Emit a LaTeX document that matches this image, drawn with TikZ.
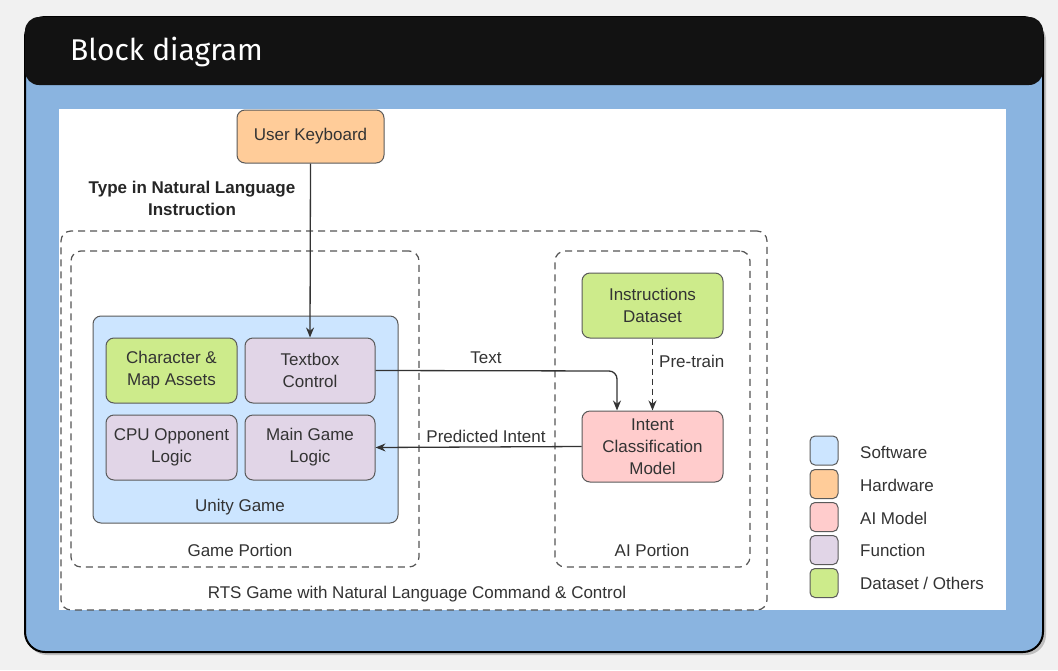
\documentclass[tikz,border=0pt]{standalone}
\usepackage{fontspec}
\setmainfont{Liberation Sans}
\newfontfamily\titlefont{Fira Sans}
\usetikzlibrary{arrows.meta}
\definecolor{bgc}{HTML}{F1F1F1}
\definecolor{panelblue}{HTML}{8AB4E0}
\definecolor{strokec}{HTML}{5A5A5A}
\definecolor{textc}{HTML}{333333}
\definecolor{swc}{HTML}{CCE5FF}
\definecolor{hwc}{HTML}{FFCC99}
\definecolor{aic}{HTML}{FFCCCC}
\definecolor{fnc}{HTML}{E1D5E7}
\definecolor{dsc}{HTML}{CDEB8B}
\definecolor{dashc}{HTML}{555555}
\tikzset{
  box/.style={draw=strokec, line width=1pt, rounded corners=8pt, align=center,
    text=textc, font=\fontsize{17}{22}\selectfont, inner sep=0pt},
  region/.style={draw=dashc, line width=1.2pt, dash pattern=on 7pt off 5pt,
    rounded corners=10pt, inner sep=0pt},
  lbl/.style={text=textc, font=\fontsize{17}{22}\selectfont, inner sep=0pt},
  conn/.style={draw=textc, line width=1.3pt, -{Stealth[length=10pt,width=8pt]}},
  legbox/.style={draw=strokec, line width=1pt, rounded corners=5pt,
    minimum width=28pt, minimum height=29pt, inner sep=0pt},
}
\begin{document}
\begin{tikzpicture}[x=1pt,y=-1pt]
\useasboundingbox (0,0) rectangle (1058,670);
\fill[bgc] (0,0) rectangle (1058,670);
% panel
\fill[black!25, rounded corners=20pt] (27,20) rectangle (1046,655);
\draw[black, line width=2pt, fill=panelblue, rounded corners=20pt] (25,17) rectangle (1043,652);
\fill[black!93, rounded corners=14pt] (25,17) rectangle (1043,85);
\node[anchor=west, text=white, inner sep=0pt, font=\titlefont\fontsize{30}{36}\selectfont] (title) at (70,52) {Block diagram};
\fill[white] (59,109) rectangle (1006,610);
% regions
\node[region, minimum width=706pt, minimum height=379pt] (outer) at (414,420.5) {};
\node[region, minimum width=348pt, minimum height=316pt] (game) at (245,409) {};
\node[region, minimum width=195pt, minimum height=316pt] (ai) at (652.5,409) {};
\node[box, fill=swc, minimum width=305pt, minimum height=207pt] (unity) at (245.5,419.5) {};
% nodes
\node[box, fill=hwc, minimum width=147pt, minimum height=53pt] (kbd) at (310.5,136.5) {User Keyboard};
\node[box, fill=dsc, minimum width=131pt, minimum height=65pt] (assets) at (171.5,370.5) {Character \&\\Map Assets};
\node[box, fill=fnc, minimum width=130pt, minimum height=65pt] (textbox) at (310,370.5) {Textbox\\Control};
\node[box, fill=fnc, minimum width=131pt, minimum height=65pt] (cpu) at (171.5,447.5) {CPU Opponent\\Logic};
\node[box, fill=fnc, minimum width=130pt, minimum height=65pt] (main) at (310,447.5) {Main Game\\Logic};
\node[box, fill=dsc, minimum width=141pt, minimum height=65pt] (dataset) at (652.5,305.5) {Instructions\\Dataset};
\node[box, fill=aic, minimum width=141pt, minimum height=71pt] (intent) at (652.5,446.5) {Intent\\Classification\\Model};
% labels
\node[align=center, inner sep=0pt, font=\bfseries\fontsize{17}{22}\selectfont, text=black!85] (instr) at (192,198) {Type in Natural Language\\Instruction};
\node[lbl] (unitylbl) at (240,507) {Unity Game};
\node[lbl] (gamelbl) at (240,550) {Game Portion};
\node[lbl] (ailbl) at (652,550) {AI Portion};
\node[lbl] (rtslbl) at (417,594) {RTS Game with Natural Language Command \& Control};
% connectors
\draw[conn] (kbd.south) -- (textbox.north);
\coordinate (bend) at (617,371);
\draw[conn, rounded corners=8pt] (textbox.east) -- (bend) -- (intent.north -| bend);
\node[lbl] (textlbl) at (486,358) {Text};
\draw[conn, dash pattern=on 6pt off 4pt] (dataset.south) -- (intent.north);
\node[lbl, anchor=west] (ptlbl) at (659,361) {Pre-train};
\draw[conn] (intent.west) -- (main.east);
\node[lbl] (predlbl) at (486,436) {Predicted Intent};
% legend
\node[legbox, fill=swc] (l1) at (824,450.5) {};
\node[legbox, fill=hwc] (l2) at (824,484) {};
\node[legbox, fill=aic] (l3) at (824,517) {};
\node[legbox, fill=fnc] (l4) at (824,550) {};
\node[legbox, fill=dsc] (l5) at (824,583) {};
\node[lbl, anchor=west] (t1) at (860,452) {Software};
\node[lbl, anchor=west] (t2) at (860,485) {Hardware};
\node[lbl, anchor=west] (t3) at (860,518) {AI Model};
\node[lbl, anchor=west] (t4) at (860,550) {Function};
\node[lbl, anchor=west] (t5) at (860,583) {Dataset / Others};
\end{tikzpicture}
\end{document}
